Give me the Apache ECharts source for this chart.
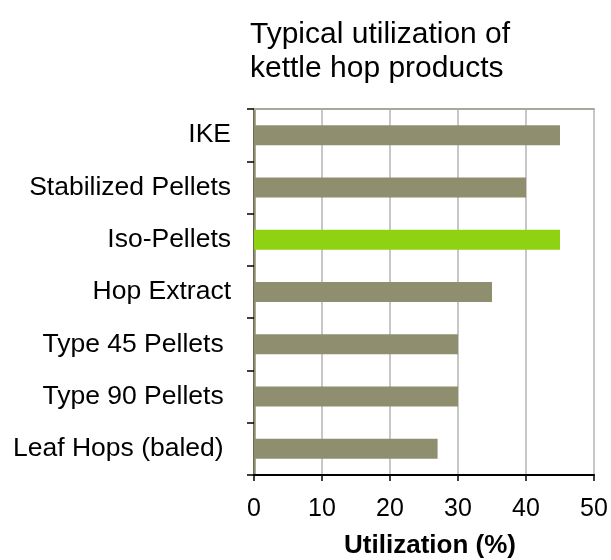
<!DOCTYPE html>
<html><head><meta charset="utf-8">
<script src="https://cdn.jsdelivr.net/npm/echarts@6/dist/echarts.min.js"></script>
<style>html,body{margin:0;padding:0;background:#fff}#c{width:611px;height:560px}</style>
</head><body><div id="c"></div>
<script>
const categories = ['IKE','Stabilized Pellets','Iso-Pellets','Hop Extract','Type 45 Pellets ','Type 90 Pellets ','Leaf Hops (baled) '];
const values = [45, 40, 45, 35, 30, 30, 27];
const highlight = 'Iso-Pellets';
const xTicks = [0, 10, 20, 30, 40, 50];
const titleText = 'Typical utilization of\nkettle hop products';
const xName = 'Utilization (%)';

const FONT = '"Liberation Sans", Arial, sans-serif';
const chart = echarts.init(document.getElementById('c'));
chart.setOption({
  animation: false,
  backgroundColor: '#fff',
  title: { text: titleText, left: 245, top: 13,
    textStyle: { fontFamily: FONT, fontSize: 30, fontWeight: 'normal', color: '#000', lineHeight: 34 } },
  grid: { left: 254, right: 17, top: 109, bottom: 85, outerBoundsMode: 'none', containLabel: false },
  xAxis: [{
    type: 'value', min: xTicks[0], max: xTicks[xTicks.length-1], interval: 10,
    name: xName, nameLocation: 'middle', nameGap: 58,
    nameTextStyle: { fontFamily: FONT, fontSize: 26, fontWeight: 'bold', color: '#000', padding: [0, 0, 0, 12] },
    axisLine: { show: true, lineStyle: { color: '#000', width: 2 } },
    axisTick: { show: true, length: 6, lineStyle: { color: '#000', width: 1.5 } },
    axisLabel: { fontFamily: FONT, fontSize: 25, color: '#000', margin: 22 },
    splitLine: { show: true, lineStyle: { color: '#b4b4b4', width: 1.5 } }
  }, {
    type: 'value', position: 'top', min: 0, max: 50, interval: 10,
    axisLine: { show: true, lineStyle: { color: '#a8a8a0', width: 2 } },
    axisTick: { show: false }, axisLabel: { show: false }, splitLine: { show: false }
  }],
  yAxis: [{
    type: 'category', data: categories, inverse: true,
    axisLine: { show: true, lineStyle: { color: '#000', width: 2 } },
    axisTick: { show: true, length: 7, alignWithLabel: false, lineStyle: { color: '#000', width: 1.5 } },
    axisLabel: { fontFamily: FONT, fontSize: 26.5, color: '#000', margin: 23 },
    splitLine: { show: false }
  }, {
    type: 'category', data: categories, inverse: true, position: 'right',
    axisLine: { show: true, lineStyle: { color: '#8f8f70', width: 2.5 } },
    axisTick: { show: false }, axisLabel: { show: false }
  }],
  series: [{
    type: 'bar', xAxisIndex: 0, yAxisIndex: 0, barWidth: 20,
    data: values.map((v, i) => ({ value: v,
      itemStyle: { color: categories[i] === highlight ? '#8fd212' : '#8f8f70' } }))
  }]
});
</script></body></html>
